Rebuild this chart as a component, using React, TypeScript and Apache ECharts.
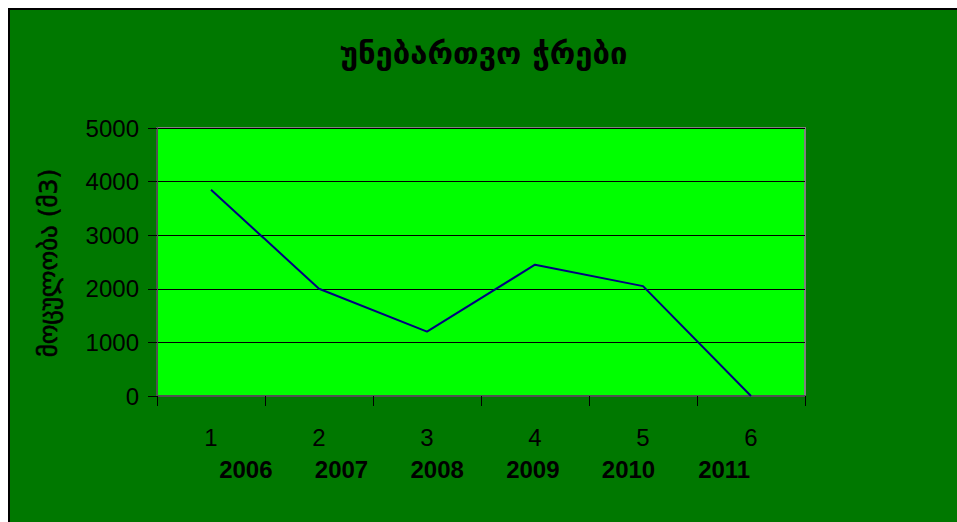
import React, { useEffect, useRef } from "react";
import * as echarts from "echarts";

const categories = ["1", "2", "3", "4", "5", "6"];
const years = ["2006", "2007", "2008", "2009", "2010", "2011"];
const values = [3850, 2000, 1200, 2450, 2050, 0];
const yTicks = { min: 0, max: 5000, interval: 1000 };
const titleText = "უნებართვო ჭრები";
const yName = "მოცულობა (მ3)";

export default function App() {
  const ref = useRef<HTMLDivElement>(null);
  useEffect(() => {
    if (!ref.current) return;
    document.body.style.overflow = "hidden";
    const chart = echarts.init(ref.current, undefined, { renderer: "svg" });
    const numFont = "'Liberation Sans', Arial, sans-serif";
    const geoFont = "'DejaVu Sans', sans-serif";
    chart.setOption({
      animation: false,
      backgroundColor: "#007800",
      title: {
        text: titleText,
        left: "center",
        top: 22,
        textStyle: { fontFamily: geoFont, fontSize: 31, fontWeight: "bold", color: "#000" },
      },
      grid: [
        {
          left: 147,
          top: 118,
          width: 648,
          height: 268,
          show: true,
          backgroundColor: "#00ff00",
          borderColor: "#808080",
          borderWidth: 2,
        },
        { left: 188, top: 118, width: 574, height: 268, show: false },
      ],
      xAxis: [
        {
          type: "category",
          data: categories,
          gridIndex: 0,
          boundaryGap: true,
          axisLine: { lineStyle: { color: "#505050", width: 2 } },
          axisTick: { show: true, length: 10, lineStyle: { color: "#000" }, alignWithLabel: false },
          axisLabel: { margin: 29, fontFamily: numFont, fontSize: 24, color: "#000" },
          splitLine: { show: false },
        },
        {
          type: "category",
          data: years,
          gridIndex: 1,
          axisLine: { show: false },
          axisTick: { show: false },
          axisLabel: { margin: 61, fontFamily: numFont, fontSize: 24, fontWeight: "bold", color: "#000" },
          splitLine: { show: false },
        },
      ],
      yAxis: [
        {
          type: "value",
          gridIndex: 0,
          min: yTicks.min,
          max: yTicks.max,
          interval: yTicks.interval,
          axisLine: { show: true, lineStyle: { color: "#505050", width: 2 } },
          axisTick: { show: true, inside: false, length: 9, lineStyle: { color: "#000" } },
          axisLabel: {
            margin: 18,
            fontFamily: numFont,
            fontSize: 24,
            color: "#000",
            formatter: (v: number) => String(v),
          },
          splitLine: { show: true, lineStyle: { color: "#000", width: 1 } },
        },
        {
          type: "value",
          gridIndex: 1,
          show: false,
          min: yTicks.min,
          max: yTicks.max,
        },
      ],
      graphic: [
        {
          type: "text",
          x: 38,
          y: 253,
          rotation: Math.PI / 2,
          style: {
            text: yName,
            fontFamily: geoFont,
            fontSize: 25,
            fontWeight: "normal",
            fill: "#000",
            stroke: "#000",
            lineWidth: 0.6,
            align: "center",
            verticalAlign: "middle",
          },
        },
      ],
      series: [
        {
          type: "line",
          data: values,
          xAxisIndex: 0,
          yAxisIndex: 0,
          showSymbol: false,
          symbol: "none",
          lineStyle: { color: "#000080", width: 2 },
        },
      ],
    });
    return () => chart.dispose();
  }, []);
  return (
    <div
      style={{
        position: "fixed",
        left: 8,
        top: 8,
        borderLeft: "2px solid #000",
        borderTop: "2px solid #000",
        width: 947,
        height: 512,
      }}
    >
      <div ref={ref} style={{ width: 947, height: 512 }} />
    </div>
  );
}
